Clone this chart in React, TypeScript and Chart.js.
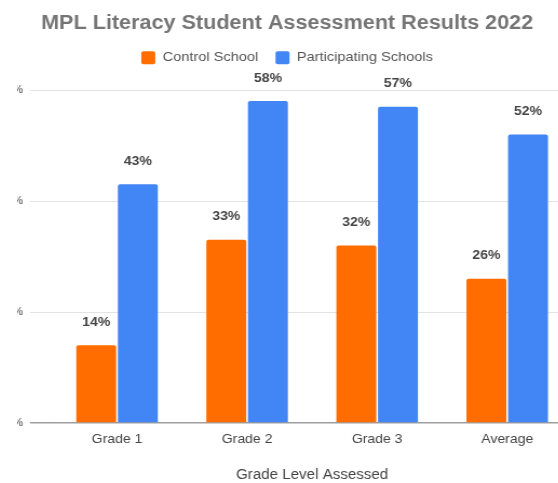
import React, { useEffect, useRef } from "react";
import { Chart, registerables } from "chart.js";

Chart.register(...registerables);

const categories = ["Grade 1", "Grade 2", "Grade 3", "Average"];
const controlValues = [14, 33, 32, 26];
const participatingValues = [43, 58, 57, 52];
const seriesNames = ["Control School", "Participating Schools"];
const yMin = 0;
const yMax = 60;
const yStep = 20;

const FONT = "'Liberation Sans', Arial, sans-serif";
const ORANGE = "#ff6d01";
const BLUE = "#4285f4";
const SX = 1.08; // horizontal stretch of the reference image
const CANVAS_W = 528;
const CANVAS_H = 483;

const valueLabels = {
  id: "valueLabels",
  afterDatasetsDraw(chart: any) {
    const ctx = chart.ctx;
    ctx.save();
    ctx.font = `bold 13px ${FONT}`;
    ctx.fillStyle = "#444444";
    ctx.textAlign = "center";
    ctx.textBaseline = "middle";
    chart.data.datasets.forEach((ds: any, di: number) => {
      const meta = chart.getDatasetMeta(di);
      meta.data.forEach((el: any, i: number) => {
        ctx.fillText(ds.data[i] + "%", el.x, el.y - 23);
      });
    });
    ctx.restore();
  },
};

const legendHeight = {
  id: "legendHeight",
  beforeLayout(chart: any) {
    const lg = chart.legend;
    if (lg && !lg.__fixed) {
      lg.__fixed = true;
      const origFit = lg.fit;
      lg.fit = function (...args: any[]) {
        origFit.apply(this, args);
        this.height = 55;
      };
    }
  },
};

export default function App() {
  const ref = useRef<HTMLCanvasElement | null>(null);

  useEffect(() => {
    if (!ref.current) return;
    const chart = new Chart(ref.current, {
      type: "bar",
      data: {
        labels: categories,
        datasets: [
          {
            label: seriesNames[0],
            data: controlValues,
            backgroundColor: ORANGE,
            borderRadius: 2,
            borderSkipped: "bottom",
            barPercentage: 0.96,
            categoryPercentage: 0.64,
          },
          {
            label: seriesNames[1],
            data: participatingValues,
            backgroundColor: BLUE,
            borderRadius: 2,
            borderSkipped: "bottom",
            barPercentage: 0.96,
            categoryPercentage: 0.64,
          },
        ],
      },
      options: {
        responsive: false,
        animation: false,
        layout: { padding: 0 },
        plugins: {
          title: {
            display: true,
            text: "MPL Literacy Student Assessment Results 2022",
            color: "#757575",
            font: { family: FONT, size: 20, weight: "bold" },
            padding: { top: 11, bottom: 0 },
          },
          legend: {
            display: true,
            labels: {
              color: "#555555",
              font: { family: FONT, size: 13.5 },
              boxWidth: 13,
              boxHeight: 13,
              padding: 16,
              useBorderRadius: true,
              borderRadius: 2,
            },
          },
          tooltip: { enabled: false },
        },
        scales: {
          x: {
            offset: true,
            grid: { display: false, drawTicks: false },
            border: { display: false },
            ticks: {
              color: "#444444",
              font: { family: FONT, size: 13 },
              padding: 9,
            },
            title: {
              display: true,
              text: "Grade Level Assessed",
              color: "#444444",
              font: { family: FONT, size: 14 },
              padding: { top: 0, bottom: -1 },
            },
            afterFit: (scale: any) => {
              scale.height = 60;
            },
          },
          y: {
            min: yMin,
            max: yMax,
            ticks: {
              stepSize: yStep,
              color: "#444444",
              font: { family: FONT, size: 10 },
              padding: 6.5,
              callback: (v: any) => v + "%",
            },
            grid: {
              color: (c: any) => (c.tick && c.tick.value === 0 ? "#9e9e9e" : "#e3e3e3"),
              tickColor: (c: any) => (c.tick && c.tick.value === 0 ? "#9e9e9e" : "#e3e3e3"),
              lineWidth: (c: any) => (c.tick && c.tick.value === 0 ? 1.5 : 1),
              tickLength: 20.4,
            },
            border: { display: false },
            afterFit: (scale: any) => {
              scale.width = 46.3;
            },
          },
        },
      },
      plugins: [valueLabels, legendHeight],
    });
    return () => chart.destroy();
  }, []);

  return (
    <div
      style={{
        position: "fixed",
        left: 17,
        top: 0,
        width: 541,
        height: 483,
        overflow: "hidden",
        background: "#ffffff",
      }}
    >
      <canvas
        ref={ref}
        width={CANVAS_W}
        height={CANVAS_H}
        style={{
          position: "absolute",
          left: -15,
          top: 0,
          width: CANVAS_W,
          height: CANVAS_H,
          transform: `scaleX(${SX})`,
          transformOrigin: "0 0",
        }}
      />
    </div>
  );
}
